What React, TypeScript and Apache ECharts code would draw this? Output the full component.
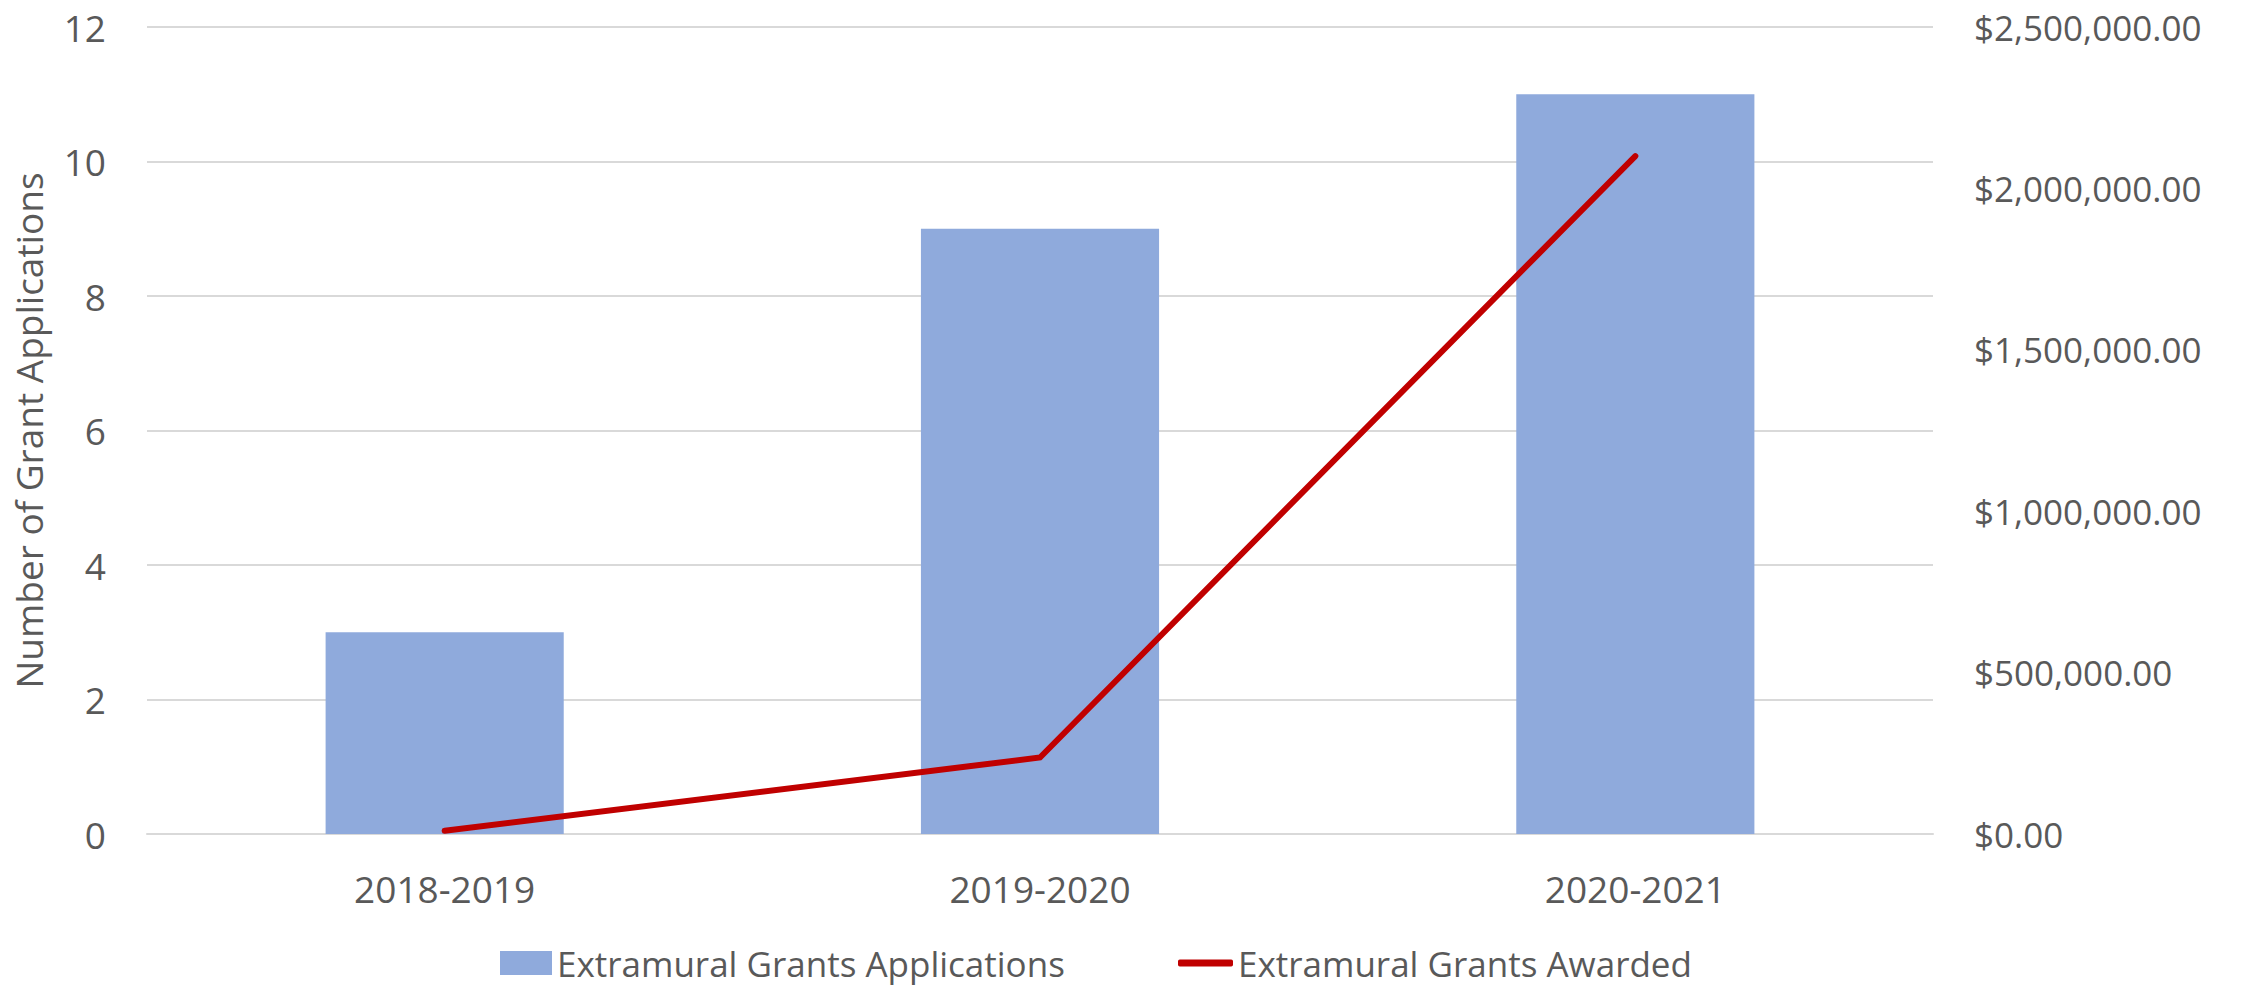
import React, { useEffect, useRef } from "react";
import * as echarts from "echarts";

const categories = ["2018-2019", "2019-2020", "2020-2021"];
const applications = [3, 9, 11];
const awarded = [10000, 237000, 2100000];
const leftTicks = { min: 0, max: 12, interval: 2 };
const rightTicks = { min: 0, max: 2500000, interval: 500000 };

const FONT = "'Open Sans', 'Noto Sans', sans-serif";
const TEXT = "#595959";
const GRID = "#D9D9D9";

const money = new Intl.NumberFormat("en-US", {
  style: "currency",
  currency: "USD",
  minimumFractionDigits: 2,
  maximumFractionDigits: 2,
});

export default function App() {
  const ref = useRef<HTMLDivElement>(null);
  useEffect(() => {
    if (!ref.current) return;
    const chart = echarts.init(ref.current, undefined, { renderer: "svg" });
    const legendText = { fontFamily: FONT, fontSize: 35, color: TEXT, lineHeight: 38 };
    chart.setOption({
      animation: false,
      backgroundColor: "#ffffff",
      textStyle: { fontFamily: FONT, color: TEXT },
      grid: { left: 147, right: 321, top: 27, bottom: 153, containLabel: false },
      legend: [
        {
          data: [{ name: "Extramural Grants Applications", icon: "rect" }],
          left: 500,
          top: 944,
          itemWidth: 52,
          itemHeight: 24,
          padding: 0,
          textStyle: legendText,
        },
        {
          data: [{ name: "Extramural Grants Awarded", icon: "roundRect" }],
          left: 1178,
          top: 944,
          itemWidth: 55,
          itemHeight: 7,
          padding: 0,
          itemStyle: { color: "#C00000" },
          textStyle: legendText,
        },
      ],
      xAxis: {
        type: "category",
        data: categories,
        axisLine: { lineStyle: { color: GRID, width: 2 } },
        axisTick: { show: false },
        axisLabel: { fontFamily: FONT, fontSize: 37, color: TEXT, margin: 36 },
      },
      yAxis: [
        {
          type: "value",
          min: leftTicks.min,
          max: leftTicks.max,
          interval: leftTicks.interval,
          name: "Number of Grant Applications",
          nameLocation: "middle",
          nameRotate: 90,
          nameGap: 100,
          nameTextStyle: { fontFamily: FONT, fontSize: 37, color: TEXT },
          axisLine: { show: false },
          axisTick: { show: false },
          splitLine: { lineStyle: { color: GRID, width: 2 } },
          axisLabel: { fontFamily: FONT, fontSize: 37, color: TEXT, margin: 41 },
        },
        {
          type: "value",
          min: rightTicks.min,
          max: rightTicks.max,
          interval: rightTicks.interval,
          axisLine: { show: false },
          axisTick: { show: false },
          splitLine: { show: false },
          axisLabel: {
            fontFamily: FONT,
            fontSize: 35,
            color: TEXT,
            margin: 41,
            formatter: (v: number) => money.format(v),
          },
        },
      ],
      series: [
        {
          name: "Extramural Grants Applications",
          type: "bar",
          data: applications,
          barWidth: "40%",
          itemStyle: { color: "#8FAADC" },
          yAxisIndex: 0,
        },
        {
          name: "Extramural Grants Awarded",
          type: "line",
          data: awarded,
          yAxisIndex: 1,
          symbol: "none",
          showSymbol: false,
          lineStyle: { color: "#C00000", width: 6, cap: "round", join: "miter" },
          itemStyle: { color: "#C00000" },
        },
      ],
    });
    return () => chart.dispose();
  }, []);
  return (
    <div
      ref={ref}
      style={{ position: "fixed", left: 0, top: 0, width: 2254, height: 987 }}
    />
  );
}
